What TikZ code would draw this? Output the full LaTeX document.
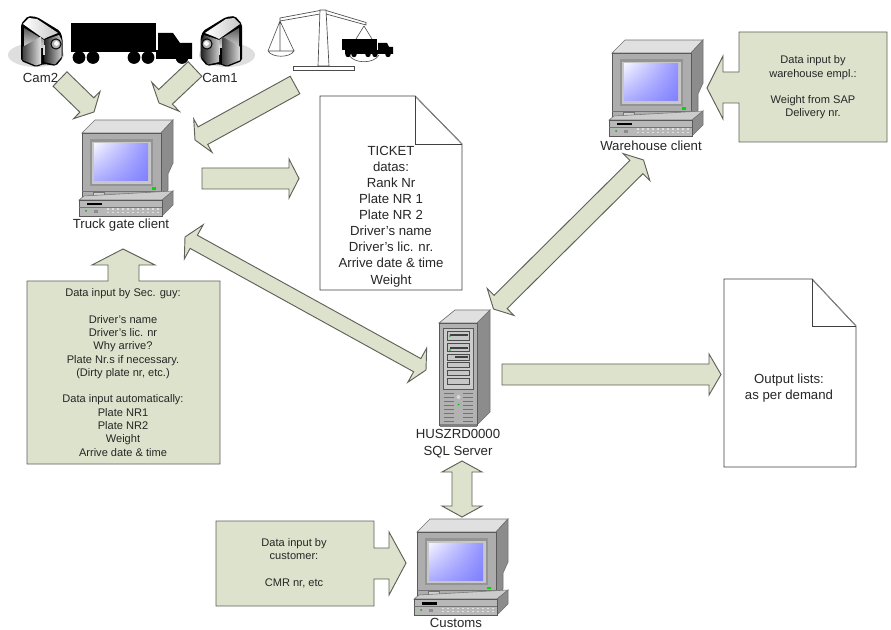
\documentclass[tikz,border=0pt]{standalone}
\usepackage{fontspec}
\setmainfont{Liberation Sans}
\usetikzlibrary{calc,shadings}
\definecolor{boxfill}{HTML}{DDE2CC}
\definecolor{boxedge}{HTML}{5F6058}
\definecolor{txt}{HTML}{262626}
\newcommand{\smalltxt}{\fontsize{8.3}{9.95}\selectfont}
\newcommand{\bigtxt}{\fontsize{9.9}{12.05}\selectfont}
\tikzset{
  x=0.75pt,y=-0.75pt,
  blockshape/.style={fill=boxfill,draw=boxedge,line width=0.7pt,line join=miter},
  pageshape/.style={fill=white,draw=black!75,line width=0.7pt},
  foldshape/.style={draw=black!75,line width=0.7pt},
  foldslant/.style={draw=black!45,line width=0.6pt},
  smalllabel/.style={font=\smalltxt,text=txt,align=center,inner sep=0pt},
  biglabel/.style={font=\bigtxt,text=txt,align=center,inner sep=0pt},
  scaleline/.style={draw=black!70,line width=0.45pt,fill=none},
  scalepart/.style={draw=black!70,line width=0.5pt,fill=white},
  pics/computer/.style={code={
    % cabinet
    \fill[black!12] (82,133)--(95,120)--(173,120)--(161,133)--cycle;
    \draw[black!55,line width=0.5pt] (82,133)--(95,120)--(173,120)--(161,133)--cycle;
    \fill[black!45] (161,133)--(173,120)--(173,163)--(168,174)--(168,190)--(161,196)--cycle;
    \draw[black!55,line width=0.5pt] (161,133)--(173,120)--(173,163)--(168,174)--(168,190)--(161,196);
    \fill[black!32,draw=black!65,line width=0.5pt] (82,133) rectangle (161,196);
    \fill[black!42] (90,139) rectangle (153,186);
    \fill[black!22] (92,142) rectangle (151,184);
    \shade[upper left=blue!4,upper right=blue!42,lower left=blue!32,lower right=blue!50] (94,144) rectangle (148,181);
    \fill[green!85!black] (152,187.5) rectangle (156,190);
    \draw[black!55,line width=0.4pt] (82,191.5)--(161,191.5);
    \fill[black!18,draw=black!55,line width=0.3pt] (93,192) rectangle (104,196);
    % base
    \fill[black!20,draw=black!55,line width=0.4pt] (79,200)--(84,196)--(173,191)--(162,200)--cycle;
    \fill[black!45,draw=black!55,line width=0.4pt] (162,200)--(173,191)--(173,205)--(162,216)--cycle;
    \fill[black!28,draw=black!65,line width=0.5pt] (79,200) rectangle (162,216);
    \fill[black] (87,203) rectangle (102,205.5);
    \draw[black!55,line width=0.4pt] (79,207)--(162,207);
    \fill[green!70!black] (86,211) circle (1);
    \fill[black!45] (94,210) rectangle (98,213);
    \foreach \k in {0,...,10}{\fill[black!12] (107+\k*5,208.5) rectangle ++(2,1.2);\fill[black!12] (107+\k*5,212) rectangle ++(2,1.2);}
  }},
  pics/camera/.style={code={
    \fill[black!13] (36,55) ellipse (28 and 12);
    \fill[black,rounded corners=1.5pt] (21,24)--(28,16)--(37,17)--(60,31)--(62.5,38)--(62.5,58)--(56,66)--(44,64)--(36,67)--(21,61)--cycle;
    \shade[left color=white,right color=black!22] (23,24)--(29,18)--(37,19)--(58,33)--(48,37)--(44,39)--cycle;
    \shade[top color=black!65,bottom color=black!15] (24,28)--(44,40)--(44,48)--(24,48)--cycle;
    \shade[left color=black!75,right color=black!12] (22.5,47)--(41,36.5)--(41,64)--(36,65.5)--(22.5,60)--cycle;
    \shade[left color=black!85,right color=black!20] (44,40)--(59,35)--(61.5,40)--(61.5,57)--(55,64.5)--(44,62)--cycle;
    \fill[black!15] (43,45) rectangle (44.5,55);
    \fill[black] (56,44) circle (5.6);
    \fill[black!30] (56,44) circle (4.4);
    \fill[white] (56.5,43.5) circle (2.4);
  }},
  pics/lorrylarge/.style={code={
    \fill[black] (71,23) rectangle (156,52);
    \fill[black] (156,50) rectangle (160,59);
    \fill[black] (158,33)--(173,33)--(180,43)--(192,43)--(192,59)--(158,59)--cycle;
    \foreach \wx in {79,93,134,148,182}{\fill[black] (\wx,57.5) circle (6.4);}
  }},
  pics/lorrysmall/.style={code={
    \fill[black] (342,39) rectangle (377,50);
    \fill[black] (345,50) rectangle (378,54);
    \fill[black] (378,43)--(387,43)--(389,47)--(393,47)--(393,54)--(378,54)--cycle;
    \foreach \wx in {348,354,368,375,388}{\fill[black] (\wx,54.5) circle (2.7);}
  }},
  pics/server/.style={code={
    \fill[black!12,draw=black!55,line width=0.5pt] (439,323)--(455,310)--(490,310)--(477,323)--cycle;
    \fill[black!45,draw=black!55,line width=0.5pt] (477,323)--(490,310)--(490,412)--(477,425)--cycle;
    \fill[black!30,draw=black!65,line width=0.5pt] (439,323) rectangle (477,425);
    \fill[black!50] (440,424) rectangle (477,426.5);
    \fill[black!20,draw=black!65,line width=0.4pt] (443,328) rectangle (473,389);
    \foreach \ya/\yb in {331/340,343.5/351.5,354/360,362.5/367.5,370.5/375.5,378.5/384}{
      \fill[black!22,draw=black!70,line width=0.45pt] (447.5,\ya) rectangle (469.5,\yb);}
    \fill[black!75] (450,334) rectangle (468,336);
    \fill[black!75] (450,347) rectangle (468,349);
    \fill[black!75] (455,356) rectangle (468,358);
    \fill[green!70!black] (450,336) circle (0.9);
    \fill[green!70!black] (450,350) circle (0.9);
    \foreach \k in {0,...,7}{
      \fill[black!55] (444,393+\k*4) rectangle (454,394+\k*4);
      \fill[black!55] (463,393+\k*4) rectangle (473,394+\k*4);}
    \fill[black!15] (458.5,397) circle (2);
    \fill[green!80!black] (458.5,404.5) circle (1);
  }}
}
% tail, tip, half shaft, half head, head length (pixels)
\newcommand{\onearrow}[5]{%
  \coordinate (hb) at ($(#2)!#5*0.75pt!(#1)$);
  \draw[blockshape]
    ($(#1)!#3*0.75pt!90:(#2)$) -- ($(hb)!#3*0.75pt!90:(#2)$) -- ($(hb)!#4*0.75pt!90:(#2)$) -- (#2) --
    ($(hb)!#4*0.75pt!-90:(#2)$) -- ($(hb)!#3*0.75pt!-90:(#2)$) -- ($(#1)!#3*0.75pt!-90:(#2)$) -- cycle;}
\newcommand{\twoarrow}[5]{%
  \coordinate (hb) at ($(#2)!#5*0.75pt!(#1)$);
  \coordinate (ha) at ($(#1)!#5*0.75pt!(#2)$);
  \draw[blockshape]
    (#1) -- ($(ha)!#4*0.75pt!-90:(#2)$) -- ($(ha)!#3*0.75pt!-90:(#2)$) -- ($(hb)!#3*0.75pt!-90:(#2)$) -- ($(hb)!#4*0.75pt!-90:(#2)$) -- (#2) --
    ($(hb)!#4*0.75pt!90:(#2)$) -- ($(hb)!#3*0.75pt!90:(#2)$) -- ($(ha)!#3*0.75pt!90:(#2)$) -- ($(ha)!#4*0.75pt!90:(#2)$) -- cycle;}
\begin{document}
\begin{tikzpicture}
\useasboundingbox (0,0) rectangle (891,630);
\fill[white] (0,0) rectangle (891,630);

% cameras and lorry
\pic at (0,0) {camera};
\pic[xscale=-1] at (263,0) {camera};
\pic at (0,0) {lorrylarge};
\node[biglabel] (cam2) at (40.5,78) {Cam2};
\node[biglabel] (cam1) at (220,78) {Cam1};

% weighing scale
\draw[scaleline] (280,21)--(268,51) (280,21)--(294,51) (280,21)--(280,51);
\draw[scaleline] (268,51) .. controls (272,58) and (290,58) .. (294,51) -- (268,51);
\draw[scaleline] (364,26)--(356,39) (364,26)--(372,39);
\draw[scaleline] (349,55) .. controls (354,64) and (374,64) .. (379,55);
\draw[scalepart] (280,18)--(320,10.5)--(326,10.5)--(366,22.5)--(366,25)--(326,14)--(320,14)--(280,21)--cycle;
\draw[scalepart] (320,10)--(326,10)--(329,66)--(318,66)--cycle;
\draw[scalepart] (293,66) rectangle (354,70);
\pic at (0,0) {lorrysmall};

% computers and server
\pic at (0,0) {computer};
\pic at (530,-80) {computer};
\pic at (335,399) {computer};
\pic at (0,0) {server};
\node[biglabel] (truckgate) at (121,225) {Truck gate client};
\node[biglabel] (warehouse) at (651,146) {Warehouse client};
\node[biglabel] (customs) at (456,623) {Customs};
\node[biglabel,font=\fontsize{9.9}{12.9}\selectfont] (sqlserver) at (458,443.5) {HUSZRD0000\\SQL Server};

% pages
\draw[pageshape] (320,96)--(415,96)--(462,144)--(462,290)--(320,290)--cycle;
\draw[foldslant] (415,96)--(462,144);
\draw[foldshape] (415,96)--(415,144)--(462,144);
\node[biglabel] (ticket) at (391,216.5) {TICKET\\datas:\\Rank Nr\\Plate NR 1\\Plate NR 2\\Driver's name\\Driver's lic. nr.\\Arrive date \& time\\Weight};
\draw[pageshape] (724,279)--(812,279)--(856,326)--(856,467)--(724,467)--cycle;
\draw[foldslant] (812,279)--(856,326);
\draw[foldshape] (812,279)--(812,326)--(856,326);
\node[biglabel] (output) at (789,388) {Output lists:\\as per demand};

% callouts
\draw[blockshape] (27,281)--(108,281)--(108,265)--(92,265)--(123,249)--(155,265)--(139,265)--(139,281)--(220,281)--(220,464)--(27,464)--cycle;
\node[smalllabel] (secguy) at (123,372.5) {Data input by Sec. guy:\\~\\Driver's name\\Driver's lic. nr\\Why arrive?\\Plate Nr.s if necessary.\\(Dirty plate nr, etc.)\\~\\Data input automatically:\\Plate NR1\\Plate NR2\\Weight\\Arrive date \& time};
\draw[blockshape] (739,32)--(887,32)--(887,142)--(739,142)--(739,103)--(723,103)--(723,119)--(707,88)--(723,56)--(723,72)--(739,72)--cycle;
\node[smalllabel] (whinput) at (813,87.5) {Data input by\\warehouse empl.:\\~\\Weight from SAP\\Delivery nr.};
\draw[blockshape] (216,521)--(374,521)--(374,548)--(389,548)--(389,532)--(406,563)--(389,595)--(389,579)--(374,579)--(374,606)--(216,606)--cycle;
\node[smalllabel] (cminput) at (294,563) {Data input by\\customer:\\~\\CMR nr, etc};

% block arrows
\coordinate (a1) at (60,79);   \coordinate (b1) at (94,112);
\coordinate (a2) at (195,69);  \coordinate (b2) at (159,103);
\coordinate (a3) at (295,85);  \coordinate (b3) at (195,140);
\coordinate (a4) at (202,178.5); \coordinate (b4) at (299,178.5);
\coordinate (a5) at (185,237); \coordinate (b5) at (426,370);
\coordinate (a6) at (643.5,160); \coordinate (b6) at (493.5,309);
\coordinate (a7) at (462,461); \coordinate (b7) at (462,517);
\coordinate (a8) at (502,374.5); \coordinate (b8) at (721,374.5);
\onearrow{a1}{b1}{10}{19}{10}
\onearrow{a2}{b2}{10}{20}{9}
\onearrow{a3}{b3}{10}{19}{9}
\onearrow{a4}{b4}{10.5}{19.5}{10}
\twoarrow{a5}{b5}{7.5}{19.5}{10}
\twoarrow{a6}{b6}{9.3}{19}{10}
\twoarrow{a7}{b7}{10}{20}{11}
\onearrow{a8}{b8}{10.5}{20.5}{12}
\end{tikzpicture}
\end{document}
